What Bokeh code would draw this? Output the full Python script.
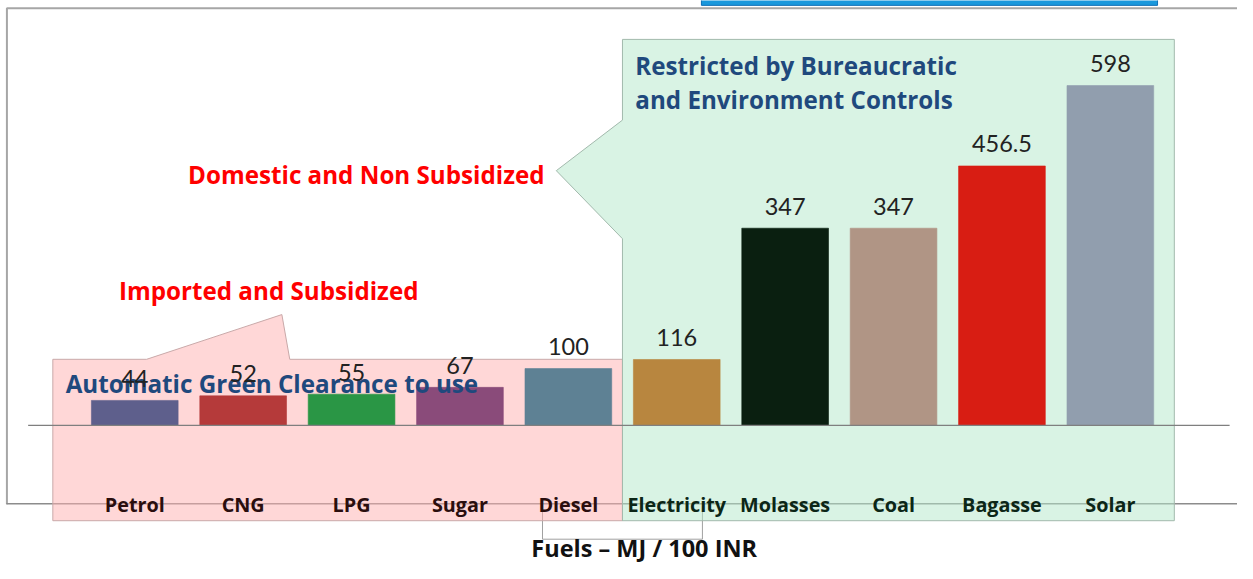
from bokeh.plotting import figure
from bokeh.models import Range1d, ColumnDataSource
from bokeh.core.properties import value
from bokeh.embed import file_html
from bokeh.resources import INLINE

# ---------------- data ----------------
fuels = ["Petrol", "CNG", "LPG", "Sugar", "Diesel",
         "Electricity", "Molasses", "Coal", "Bagasse", "Solar"]
mj_per_100_inr = [44, 52, 55, 67, 100, 116, 347, 347, 456.5, 598]
value_text = ["44", "52", "55", "67", "100", "116", "347", "347", "456.5", "598"]
bar_colors = ["#5E5F8C", "#B53A3A", "#2A9645", "#8A4B7A", "#5E8194",
              "#B8863F", "#0A1F10", "#B09585", "#D81D13", "#919EAE"]
group = ["imported"] * 5 + ["domestic"] * 5
axis_title = "Fuels \u2013 MJ / 100 INR"
pink_title = "Imported and Subsidized"
pink_note = "Automatic Green Clearance to use"
green_title = "Domestic and Non Subsidized"
green_note = ["Restricted by Bureaucratic", "and Environment Controls"]

# ---------------- layout helpers (reference pixels -> data) ----------------
W, H = 1237, 563
RW, RH = 1253, 579          # reference picture size
X0, DX = 136.0, 109.8       # centre of first category, category pitch (ref px)
Y0, KY = 437.0, 0.5845      # baseline (ref px), ref px per unit


def px(X):
    return (X - X0) / DX


def py(Y):
    return (Y0 - Y) / KY


idx = list(range(len(fuels)))
label_colors = ["#2A0E0E" if g == "imported" else "#0C2617" for g in group]

src = ColumnDataSource(dict(x=idx, top=mj_per_100_inr, color=bar_colors,
                            vt=value_text, name=fuels, lc=label_colors))

p = figure(width=W, height=H, output_backend="svg", toolbar_location=None,
           x_range=Range1d(px(0), px(RW)), y_range=Range1d(py(RH), py(0)),
           x_axis_location=None, y_axis_location=None, min_border=0,
           outline_line_color=None, background_fill_color="white")
p.grid.visible = False

# banner fragment at the top
p.quad(left=[px(710)], right=[px(1172)], top=[py(-3)], bottom=[py(5)],
       fill_color="#1A98DC", line_color="#0E6FB8", line_width=1)

# slide frame border
p.line([px(6.5), px(6.5), px(1253)], [py(518), py(8), py(8)],
       line_color="#A6A6A6", line_width=2)
p.line([px(6), px(1253)], [py(517.5), py(517.5)], line_color="#8C8C8C", line_width=1.5)

# bracket under Diesel / Electricity
p.line([px(549), px(549), px(711), px(711)], [py(518), py(554), py(554), py(520)],
       line_color="#A0A0A0", line_width=1)

# callout boxes
pink_x = [53, 148, 285, 293, 630, 630, 53]
pink_y = [369, 369, 323, 369, 369, 535, 535]
p.patch([px(v) for v in pink_x], [py(v) for v in pink_y],
        fill_color="#FFB0B0", fill_alpha=0.5, line_color="#C9A9A9", line_width=1)
green_x = [630, 1189, 1189, 630, 630, 563, 630]
green_y = [40, 40, 535, 535, 245, 175, 123]
p.patch([px(v) for v in green_x], [py(v) for v in green_y],
        fill_color="#B3E7C9", fill_alpha=0.5, line_color="#A2B9AC", line_width=1)

# bars
p.vbar(x="x", top="top", bottom=0, width=0.8, source=src,
       fill_color="color", line_color="color", line_alpha=0.6)

# baseline
p.line([px(28), px(1245)], [0, 0], line_color="#7F7F7F", line_width=1.3)

# annotation texts
blue = "#1F497D"
F = value("Open Sans")
FS = "24.2px"
p.text([px(66)], [py(394)], text=[pink_note], text_font=F,
       text_font_style="bold", text_font_size=FS, text_color=blue,
       text_baseline="middle", text_align="left")
p.text([px(120)], [py(298)], text=[pink_title], text_font=F,
       text_font_style="bold", text_font_size=FS, text_color="#FF0000",
       text_baseline="middle", text_align="left")
p.text([px(190)], [py(179)], text=[green_title], text_font=F,
       text_font_style="bold", text_font_size=FS, text_color="#FF0000",
       text_baseline="middle", text_align="left")
p.text([px(643), px(643)], [py(67), py(102)], text=green_note, text_font=F,
       text_font_style="bold", text_font_size=FS, text_color=blue,
       text_baseline="middle", text_align="left")

# value labels
p.text(x="x", y="top", text="vt", source=src, text_font=value("Lato"),
       text_font_size="23.5px", text_color="#222222", text_align="center",
       text_baseline="alphabetic", y_offset=-22)

# category labels
p.text(x="x", y=py(518), text="name", source=src, text_font=F,
       text_font_style="bold", text_font_size="19.8px", text_color="lc",
       text_align="center", text_baseline="middle")

# axis title
p.text([px(652)], [py(563)], text=[axis_title], text_font=F,
       text_font_style="bold", text_font_size="23.5px", text_color="#111111",
       text_align="center", text_baseline="middle")

open("out.html", "w").write(file_html(p, INLINE))
